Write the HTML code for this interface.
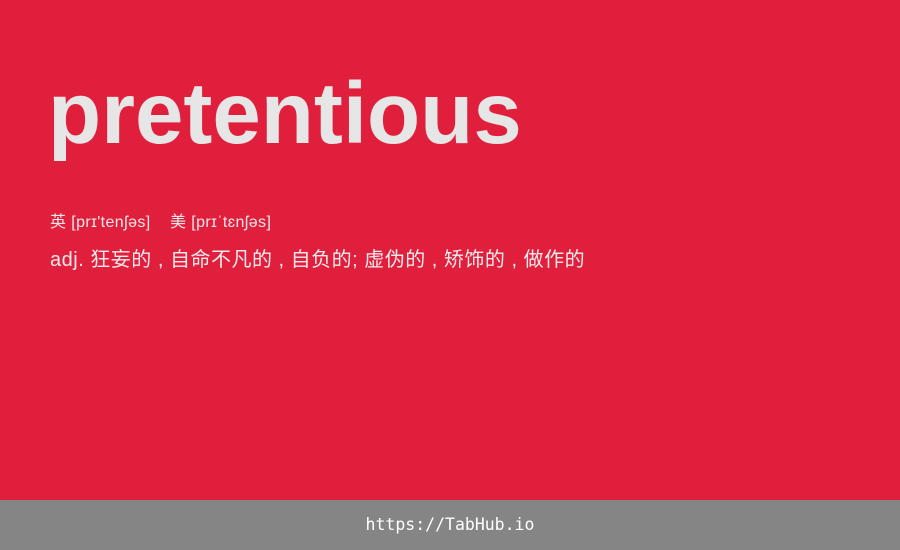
<!DOCTYPE html>
<html><head><meta charset="utf-8"><style>
body{margin:0;width:900px;height:550px;overflow:hidden;background:#e01f3d;position:relative;font-family:"Liberation Sans","Noto Sans CJK SC",sans-serif}
#word{position:absolute;left:48px;top:64px;font-size:87px;font-weight:bold;color:#e6e6e6;line-height:100px;margin:0;letter-spacing:0px}
#phon{position:absolute;left:50px;top:213px;font-size:16px;color:#f2e6e8;line-height:20px;white-space:pre;letter-spacing:0.4px}
#def{position:absolute;left:50px;top:247px;font-size:20px;color:#f4eaec;line-height:26px;white-space:pre;letter-spacing:0.5px}
#foot{position:absolute;left:0;top:500px;width:900px;height:50px;background:#858585;color:#fff;font-family:"DejaVu Sans Mono","Liberation Mono",monospace;font-size:16.5px;line-height:50px;text-align:center}
</style></head><body>
<h1 id="word">pretentious</h1>
<div id="phon">英 [prɪ'tenʃəs]    美 [prɪˈtɛnʃəs]</div>
<div id="def">adj. 狂妄的 , 自命不凡的 , 自负的; 虚伪的 , 矫饰的 , 做作的</div>
<div id="foot">https://TabHub.io</div>
</body></html>
